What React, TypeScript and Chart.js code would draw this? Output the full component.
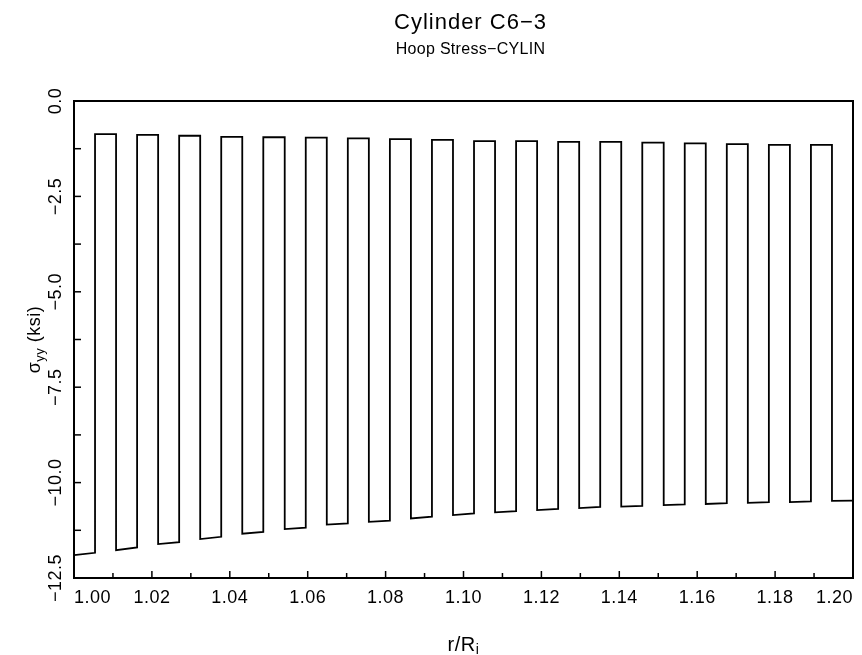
import React, { useEffect, useRef } from 'react';
import { Chart, registerables } from 'chart.js';

Chart.register(...registerables);

// Layer boundaries along r/Ri (37 equal layers between 1.00 and 1.20)
const layerBounds = [
  1.0000, 1.0054, 1.0108, 1.0162, 1.0216, 1.0270, 1.0324, 1.0378, 1.0432, 1.0486,
  1.0541, 1.0595, 1.0649, 1.0703, 1.0757, 1.0811, 1.0865, 1.0919, 1.0973, 1.1027,
  1.1081, 1.1135, 1.1189, 1.1243, 1.1297, 1.1351, 1.1405, 1.1459, 1.1514, 1.1568,
  1.1622, 1.1676, 1.1730, 1.1784, 1.1838, 1.1892, 1.1946, 1.2000,
];

// Hoop stress (ksi) at the inner edge of each layer
const stressStart = [
  -11.90, -0.87, -11.77, -0.89, -11.61, -0.91, -11.48, -0.94, -11.34, -0.95,
  -11.22, -0.96, -11.10, -0.98, -11.03, -1.00, -10.94, -1.02, -10.85, -1.05,
  -10.78, -1.05, -10.72, -1.07, -10.67, -1.07, -10.63, -1.09, -10.59, -1.11,
  -10.56, -1.13, -10.53, -1.15, -10.51, -1.15, -10.48,
];

// Hoop stress (ksi) at the outer edge of each layer
const stressEnd = [
  -11.84, -0.87, -11.70, -0.89, -11.56, -0.91, -11.42, -0.94, -11.29, -0.95,
  -11.18, -0.96, -11.07, -0.98, -11.00, -1.00, -10.89, -1.02, -10.81, -1.05,
  -10.75, -1.05, -10.69, -1.07, -10.64, -1.07, -10.61, -1.09, -10.57, -1.11,
  -10.54, -1.13, -10.51, -1.15, -10.49, -1.15, -10.47,
];

const xMin = 1.0;
const xMax = 1.2;
const xStep = 0.01;
const yMin = -12.5;
const yMax = 0;
const yStep = 1.25;

const titleText = 'Cylinder C6\u22123';
const subtitleText = 'Hoop Stress\u2212CYLIN';

const FONT = '"Liberation Sans", Arial, sans-serif';

function xLabel(v: number): string {
  const k = Math.round((v - 1) * 100);
  return k % 2 === 0 ? v.toFixed(2) : '';
}

function yLabel(v: number): string {
  const k = Math.round(v / 1.25);
  if (k % 2 !== 0) return '';
  const val = k * 1.25;
  if (val === 0) return '0.0';
  return '\u2212' + Math.abs(val).toFixed(1);
}

const decorPlugin = {
  id: 'decor',
  beforeUpdate(chart: any) {
    chart.ctx.letterSpacing = '0.5px';
  },
  beforeDraw(chart: any) {
    chart.ctx.letterSpacing = '0.5px';
  },
  afterDraw(chart: any) {
    const ctx = chart.ctx as CanvasRenderingContext2D;
    const { left, right, top, bottom } = chart.chartArea;
    const xs = chart.scales.x;
    const ys = chart.scales.y;
    ctx.save();
    ctx.strokeStyle = '#000';
    ctx.fillStyle = '#000';
    ctx.lineWidth = 1.5;
    xs.ticks.forEach((t: any) => {
      const px = xs.getPixelForValue(t.value);
      if (px <= left + 1 || px >= right - 1) return;
      const major = t.label !== '';
      const len = major ? 7 : 5;
      ctx.beginPath();
      ctx.moveTo(px, bottom);
      ctx.lineTo(px, bottom - len);
      ctx.stroke();
    });
    ys.ticks.forEach((t: any) => {
      const py = ys.getPixelForValue(t.value);
      if (py <= top + 1 || py >= bottom - 1) return;
      ctx.beginPath();
      ctx.moveTo(left, py);
      ctx.lineTo(left + 7, py);
      ctx.stroke();
    });
    ctx.lineWidth = 2;
    ctx.strokeRect(left, top, right - left, bottom - top);

    const cx = (left + right) / 2 + 7;
    ctx.textAlign = 'center';
    ctx.textBaseline = 'alphabetic';
    ctx.letterSpacing = '1px';
    ctx.font = `22px ${FONT}`;
    ctx.fillText(titleText, cx, 29);
    ctx.letterSpacing = '0.3px';
    ctx.font = `16px ${FONT}`;
    ctx.fillText(subtitleText, cx, 54);

    // x-axis title r/Ri
    ctx.letterSpacing = '0.5px';
    ctx.textAlign = 'left';
    ctx.font = `20px ${FONT}`;
    const mainX = 'r/R';
    const wMain = ctx.measureText(mainX).width;
    ctx.font = `14px ${FONT}`;
    const wSub = ctx.measureText('i').width;
    const startX = (left + right) / 2 - (wMain + wSub) / 2;
    const baseY = 651;
    ctx.font = `20px ${FONT}`;
    ctx.fillText(mainX, startX, baseY);
    ctx.font = `14px ${FONT}`;
    ctx.fillText('i', startX + wMain, baseY + 3);

    // y-axis title sigma_yy (ksi)
    ctx.save();
    ctx.translate(40, (top + bottom) / 2);
    ctx.rotate(-Math.PI / 2);
    ctx.font = `18px ${FONT}`;
    const wSig = ctx.measureText('\u03c3').width;
    const wRest = ctx.measureText(' (ksi)').width;
    ctx.font = `13px ${FONT}`;
    const wYY = ctx.measureText('yy').width;
    const total = wSig + wYY + wRest;
    let px = -total / 2;
    ctx.font = `18px ${FONT}`;
    ctx.fillText('\u03c3', px, 0);
    px += wSig;
    ctx.font = `13px ${FONT}`;
    ctx.fillText('yy', px, 4);
    px += wYY;
    ctx.font = `18px ${FONT}`;
    ctx.fillText(' (ksi)', px, 0);
    ctx.restore();

    ctx.restore();
  },
};

export default function App() {
  const canvasRef = useRef<HTMLCanvasElement | null>(null);

  useEffect(() => {
    const canvas = canvasRef.current;
    if (!canvas) return;
    const points: { x: number; y: number }[] = [];
    for (let i = 0; i < stressStart.length; i++) {
      points.push({ x: layerBounds[i], y: stressStart[i] });
      points.push({ x: layerBounds[i + 1], y: stressEnd[i] });
    }
    const tickFont = { family: FONT, size: 18 };
    const chart = new Chart(canvas, {
      type: 'line',
      data: {
        datasets: [
          {
            data: points,
            borderColor: '#000',
            borderWidth: 1.8,
            pointRadius: 0,
            tension: 0,
            fill: false,
          },
        ],
      },
      options: {
        animation: false,
        responsive: false,
        devicePixelRatio: 1,
        layout: { padding: { left: 0, top: 101, right: 5, bottom: 0 } },
        plugins: {
          legend: { display: false },
          tooltip: { enabled: false },
          title: { display: false },
        },
        scales: {
          x: {
            type: 'linear',
            min: xMin,
            max: xMax,
            grid: { display: false, drawTicks: false, tickLength: 0 },
            border: { display: false },
            ticks: {
              stepSize: xStep,
              autoSkip: false,
              align: 'inner',
              minRotation: 0,
              maxRotation: 0,
              padding: 9,
              color: '#000',
              font: tickFont,
              callback: (v: any) => xLabel(Number(v)),
            },
            afterFit: (s: any) => {
              s.height = 77;
            },
          },
          y: {
            type: 'linear',
            min: yMin,
            max: yMax,
            grid: { display: false, drawTicks: false, tickLength: 0 },
            border: { display: false },
            ticks: {
              stepSize: yStep,
              autoSkip: false,
              minRotation: 90,
              maxRotation: 90,
              crossAlign: 'center',
              padding: -6,
              color: '#000',
              font: tickFont,
              callback: (v: any) => yLabel(Number(v)),
            },
            afterFit: (s: any) => {
              s.width = 74;
            },
          },
        },
      } as any,
      plugins: [decorPlugin],
    });
    return () => chart.destroy();
  }, []);

  return (
    <div style={{ position: 'fixed', left: 0, top: 0, width: 862, height: 655, background: '#fff' }}>
      <canvas ref={canvasRef} width={862} height={655} style={{ display: 'block' }} />
    </div>
  );
}
